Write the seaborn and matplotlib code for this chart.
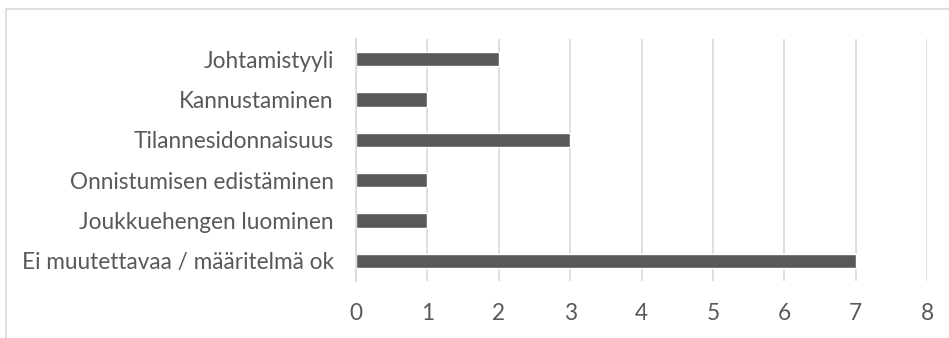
import matplotlib
matplotlib.use("Agg")
import matplotlib.pyplot as plt
import seaborn as sns
import pandas as pd

categories = [
    "Johtamistyyli",
    "Kannustaminen",
    "Tilannesidonnaisuus",
    "Onnistumisen edistäminen",
    "Joukkuehengen luominen",
    "Ei muutettavaa / määritelmä ok",
]
counts = [2, 1, 3, 1, 1, 7]
x_ticks = [0, 1, 2, 3, 4, 5, 6, 7, 8]

sns.set_theme(style="white")
plt.rcParams["font.family"] = ["Lato", "DejaVu Sans"]

text_color = "#595959"
grid_color = "#d9d9d9"
bar_color = "#595959"

df = pd.DataFrame({"category": categories, "count": counts})

W, H = 949, 338
fig = plt.figure(figsize=(W / 100, H / 100), dpi=100)
ax = fig.add_axes([356 / W, 1 - 281 / H, (927 - 356) / W, (281 - 39) / H])

sns.barplot(data=df, x="count", y="category", color=bar_color, width=0.35,
            saturation=1, ax=ax, order=categories)

ax.set_xlim(0, 8)
ax.set_ylim(len(categories) - 0.5, -0.5)
ax.set_xticks(x_ticks)
ax.set_xlabel("")
ax.set_ylabel("")
ax.grid(axis="x", color=grid_color, linewidth=1.2)
ax.grid(axis="y", visible=False)
ax.set_axisbelow(True)
for s in ["top", "right", "bottom"]:
    ax.spines[s].set_visible(False)
ax.spines["left"].set_color(grid_color)
ax.spines["left"].set_linewidth(1.2)
ax.tick_params(axis="both", length=0, labelsize=16.3, colors=text_color)
ax.tick_params(axis="y", pad=16)
ax.tick_params(axis="x", pad=16)

# chart frame
fig.add_artist(plt.Line2D([6 / W, 1], [1 - 9 / H, 1 - 9 / H], color=grid_color, lw=1.2,
                          transform=fig.transFigure))
fig.add_artist(plt.Line2D([6 / W, 6 / W], [0, 1 - 9 / H], color=grid_color, lw=1.2,
                          transform=fig.transFigure))

fig.savefig("out.png", dpi=100, facecolor="white")
